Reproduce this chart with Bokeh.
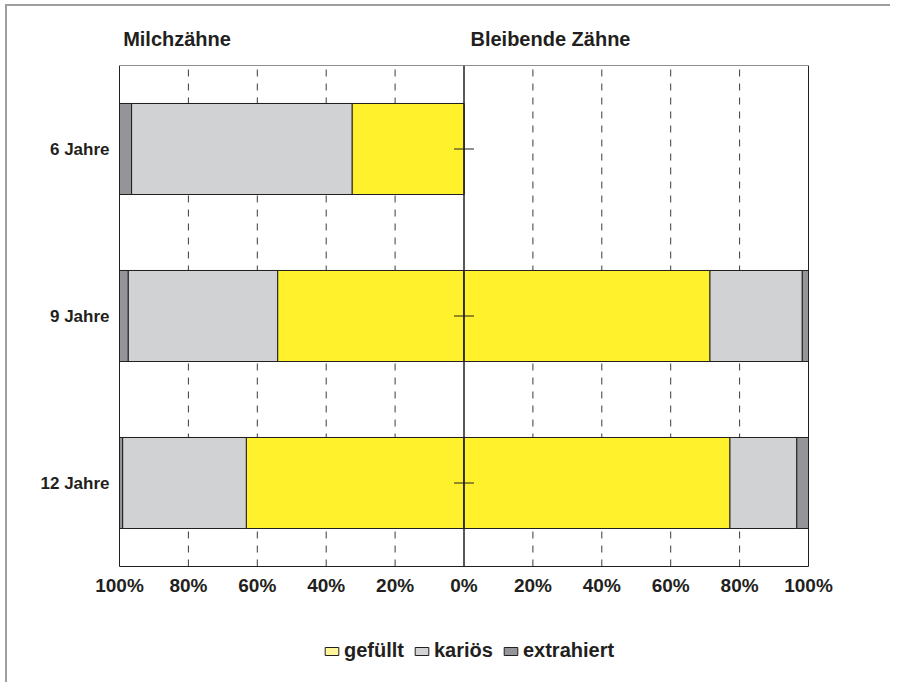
from bokeh.plotting import figure
from bokeh.models import (ColumnDataSource, Range1d, FixedTicker, Legend, LegendItem, LinearAxis)
from bokeh.embed import file_html
from bokeh.resources import INLINE
import numpy as np

# ---- data ----
ages = ["6 Jahre", "9 Jahre", "12 Jahre"]
milch_gefuellt = [32.5, 54.1, 63.2]
milch_karioes = [64.0, 43.4, 35.9]
milch_extrahiert = [3.5, 2.5, 0.9]
bleib_gefuellt = [0.0, 71.4, 77.2]
bleib_karioes = [0.0, 26.8, 19.4]
bleib_extrahiert = [0.0, 1.8, 3.4]
tick_values = [-100, -80, -60, -40, -20, 0, 20, 40, 60, 80, 100]
tick_labels = ["100%", "80%", "60%", "40%", "20%", "0%", "20%", "40%", "60%", "80%", "100%"]
grid_values = [-80, -60, -40, -20, 20, 40, 60, 80]
series_names = ["gefüllt", "kariös", "extrahiert"]
headings = ["Milchzähne", "Bleibende Zähne"]
heading_pos = [-83.3, 25.1]

BAR_COLORS = ["#fff22d", "#d1d2d4", "#939598"]
LEGEND_COLORS = ["#fff59b", "#d1d2d4", "#939598"]
TXT = "#231f20"
FONT = "Liberation Sans"

# layout (canvas pixels)
W, H = 885, 678
TOP = 59                  # box top
BOX_L, BOX_R = 112, 801   # box left / right edges
PX_PER_CAT = 167.0
n = len(ages)
ypos = [n - 0.5 - i for i in range(n)]          # category centres, top to bottom
y_start = n - (H - TOP) / PX_PER_CAT            # extra room below the box for labels & legend
px_per_pct = (BOX_R - BOX_L) / 200.0
x_start = -100 - BOX_L / px_per_pct
x_end = 100 + (W - BOX_R) / px_per_pct

p = figure(width=W, height=H, output_backend="svg", toolbar_location=None,
           x_range=Range1d(x_start, x_end), y_range=Range1d(y_start, n),
           min_border_left=0, min_border_right=0, min_border_top=TOP, min_border_bottom=0)
p.styles = {"border-left": "2px solid #9d9d9d", "border-top": "2px solid #9d9d9d",
            "margin-left": "5px", "margin-top": "4px"}
p.outline_line_color = None
p.background_fill_color = "white"
p.border_fill_color = "white"
p.xgrid.grid_line_color = None
p.ygrid.grid_line_color = None

# dashed vertical grid inside the box
p.segment(x0=grid_values, x1=grid_values, y0=[0] * len(grid_values), y1=[n] * len(grid_values),
          line_color="#3a3a3a", line_width=1, line_dash="7 7")

# stacked segments (left: milk teeth, negative direction; right: permanent teeth)
mg = np.array(milch_gefuellt); mk = np.array(milch_karioes); me = np.array(milch_extrahiert)
bg = np.array(bleib_gefuellt); bk = np.array(bleib_karioes); be = np.array(bleib_extrahiert)
z = np.zeros(n)
segments = [
    (z, -mg, 0), (-mg, -(mg + mk), 1), (-(mg + mk), -(mg + mk + me), 2),
    (z, bg, 0), (bg, bg + bk, 1), (bg + bk, bg + bk + be, 2),
]
sources = []
for a, b, k in segments:
    keep = np.abs(b - a) > 0
    sources.append((ColumnDataSource(dict(y=np.array(ypos)[keep], left=a[keep], right=b[keep])), k))

# legend swatch renderers (pale legend colours), fully covered by the bars drawn afterwards
legend_items = []
for k, name in enumerate(series_names):
    r = p.hbar(y="y", left="left", right="right", height=0.545, source=sources[k][0],
               fill_color=LEGEND_COLORS[k], line_color=TXT, line_width=1)
    legend_items.append(LegendItem(label=name, renderers=[r]))

for src, k in sources:
    p.hbar(y="y", left="left", right="right", height=0.545, source=src,
           fill_color=BAR_COLORS[k], line_color=TXT, line_width=1)

# centre line, centre ticks and box
p.segment(x0=[0], x1=[0], y0=[0], y1=[n], line_color=TXT, line_width=1.5)
p.segment(x0=[-2.9] * n, x1=[2.9] * n, y0=ypos, y1=ypos, line_color=TXT, line_width=1)
p.quad(left=[-100], right=[100], bottom=[0], top=[n], fill_color=None, line_color=TXT, line_width=1)

# bottom x axis, placed at the box bottom
xa = p.below[0]
xa.fixed_location = 0
xa.ticker = FixedTicker(ticks=tick_values)
xa.major_label_overrides = {v: l for v, l in zip(tick_values, tick_labels)}
xa.axis_line_color = None
xa.major_tick_line_color = None
xa.minor_tick_line_color = None
xa.major_label_standoff = 2
xa.major_label_text_font = FONT
xa.major_label_text_font_style = "bold"
xa.major_label_text_font_size = "19px"
xa.major_label_text_color = TXT

# top axis carrying the two headings
ta = LinearAxis(ticker=FixedTicker(ticks=heading_pos),
                major_label_overrides={v: t for v, t in zip(heading_pos, headings)},
                axis_line_color=None, major_tick_line_color=None, minor_tick_line_color=None,
                major_label_standoff=10, major_label_text_font=FONT,
                major_label_text_font_style="bold", major_label_text_font_size="20px",
                major_label_text_color=TXT)
p.add_layout(ta, "above")

# y axis with category labels, placed at the box's left edge
ya = p.left[0]
ya.fixed_location = -100
ya.ticker = FixedTicker(ticks=ypos)
ya.major_label_overrides = {v: a for v, a in zip(ypos, ages)}
ya.axis_line_color = None
ya.major_tick_line_color = None
ya.minor_tick_line_color = None
ya.major_label_standoff = 4
ya.major_label_text_font = FONT
ya.major_label_text_font_style = "bold"
ya.major_label_text_font_size = "17px"
ya.major_label_text_color = TXT

legend = Legend(items=legend_items, orientation="horizontal", location=(316, 22),
                glyph_width=17, glyph_height=10, label_standoff=4, spacing=9,
                padding=0, margin=0, border_line_alpha=0, background_fill_alpha=0,
                label_text_font=FONT, label_text_font_style="bold",
                label_text_font_size="20px", label_text_color=TXT)
p.add_layout(legend)

open("out.html", "w").write(file_html(p, INLINE))
